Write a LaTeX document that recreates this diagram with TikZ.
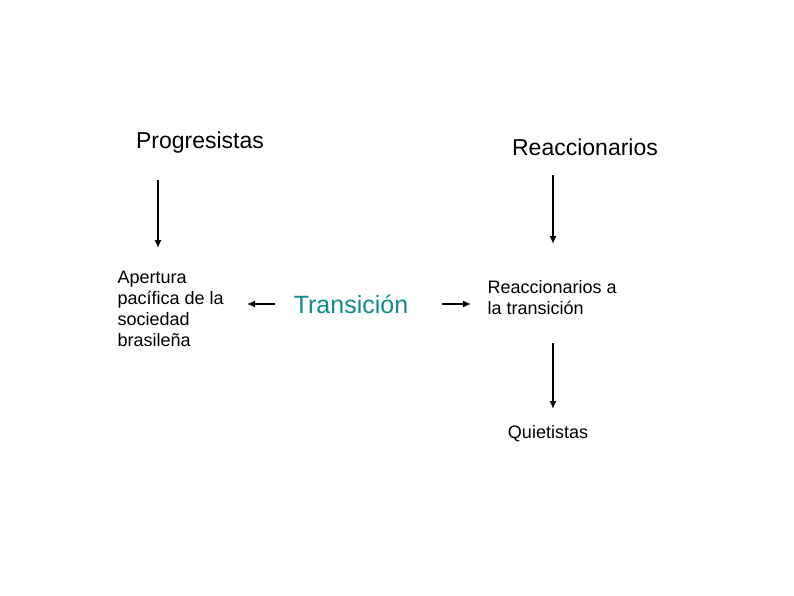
\documentclass[tikz,border=0pt]{standalone}
\usepackage{fontspec}
\setmainfont{Liberation Sans}
\usetikzlibrary{arrows.meta,positioning}
\definecolor{tealtxt}{RGB}{16,140,140}

\begin{document}
\begin{tikzpicture}[>={Latex[length=8pt,width=7pt]},x=1pt,y=-1pt,
  big/.style={font=\fontsize{23}{27}\selectfont},
  small/.style={font=\fontsize{18}{21}\selectfont,align=left},
  arr/.style={->,line width=1.5pt}]
\useasboundingbox (0,0) rectangle (794,596);
\path
(200,143) node[big]  (prog) {Progresistas}
(585,147) node[big]  (reac) {Reaccionarios}
(114,309) node[small,anchor=west] (aper) {Apertura\\pacífica de la\\sociedad\\brasileña}
(351,304) node[font=\fontsize{25}{30}\selectfont,text=tealtxt] (trans) {Transición}
(484,298) node[small,anchor=west] (reactr) {Reaccionarios a\\la transición}
(548,434) node[small] (quiet) {Quietistas};

% arrow ends
\coordinate (p1) at (158,180); \coordinate (p2) at (158,248);
\coordinate (r1) at (553,175); \coordinate (r2) at (553,244);
\coordinate (t1) at (275,304); \coordinate (t2) at (247,304);
\coordinate (t3) at (442,304); \coordinate (t4) at (471,304);
\coordinate (q1) at (553,343); \coordinate (q2) at (553,409);

\draw[arr] (p1)--(p2);
\draw[arr] (r1)--(r2);
\draw[arr] (t1)--(t2);
\draw[arr] (t3)--(t4);
\draw[arr] (q1)--(q2);
\end{tikzpicture}
\end{document}
